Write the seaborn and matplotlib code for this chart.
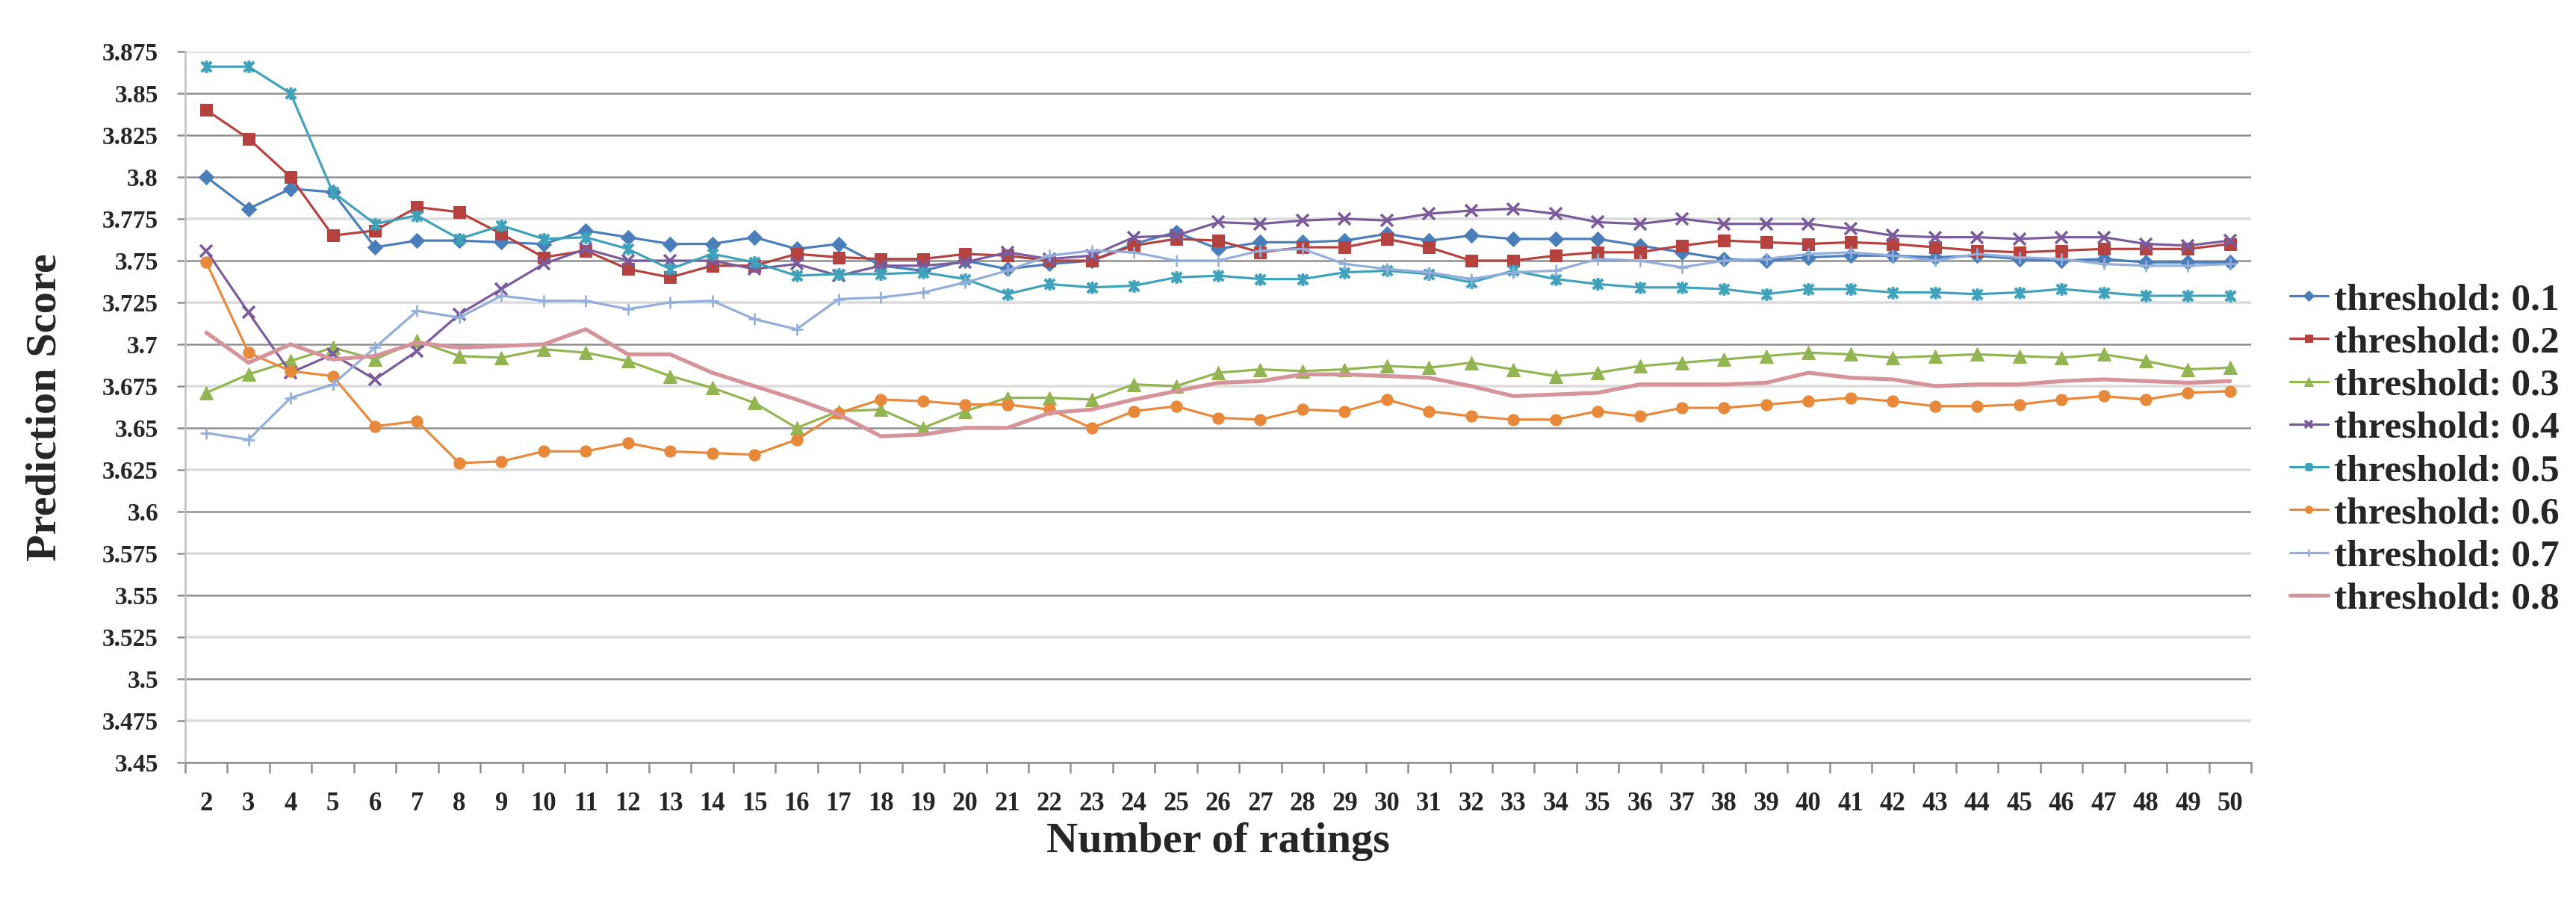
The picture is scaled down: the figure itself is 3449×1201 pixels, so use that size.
import matplotlib
matplotlib.use('Agg')
import matplotlib.pyplot as plt
import seaborn as sns
import pandas as pd
from matplotlib.path import Path
from matplotlib.ticker import FixedLocator, FuncFormatter

ratings = list(range(2, 51))

t01 = [3.800, 3.781, 3.793, 3.791, 3.758, 3.762, 3.762, 3.761, 3.760, 3.768,
       3.764, 3.760, 3.760, 3.764, 3.757, 3.760, 3.747, 3.744, 3.750, 3.745,
       3.748, 3.750, 3.760, 3.767, 3.757, 3.761, 3.761, 3.762, 3.766, 3.762,
       3.765, 3.763, 3.763, 3.763, 3.759, 3.755, 3.751, 3.750, 3.752, 3.753,
       3.753, 3.752, 3.753, 3.751, 3.750, 3.751, 3.749, 3.749, 3.749]
t02 = [3.840, 3.823, 3.800, 3.765, 3.768, 3.782, 3.779, 3.766, 3.752, 3.756,
       3.745, 3.740, 3.747, 3.747, 3.754, 3.752, 3.751, 3.751, 3.754, 3.753,
       3.750, 3.750, 3.759, 3.763, 3.762, 3.755, 3.758, 3.758, 3.763, 3.758,
       3.750, 3.750, 3.753, 3.755, 3.755, 3.759, 3.762, 3.761, 3.760, 3.761,
       3.760, 3.758, 3.756, 3.755, 3.756, 3.757, 3.757, 3.757, 3.760]
t03 = [3.671, 3.682, 3.690, 3.698, 3.691, 3.702, 3.693, 3.692, 3.697, 3.695,
       3.690, 3.681, 3.674, 3.665, 3.650, 3.660, 3.661, 3.650, 3.660, 3.668,
       3.668, 3.667, 3.676, 3.675, 3.683, 3.685, 3.684, 3.685, 3.687, 3.686,
       3.689, 3.685, 3.681, 3.683, 3.687, 3.689, 3.691, 3.693, 3.695, 3.694,
       3.692, 3.693, 3.694, 3.693, 3.692, 3.694, 3.690, 3.685, 3.686]
t04 = [3.756, 3.719, 3.683, 3.694, 3.679, 3.696, 3.718, 3.733, 3.748, 3.757,
       3.750, 3.750, 3.750, 3.745, 3.748, 3.741, 3.747, 3.747, 3.749, 3.755,
       3.751, 3.753, 3.764, 3.765, 3.773, 3.772, 3.774, 3.775, 3.774, 3.778,
       3.780, 3.781, 3.778, 3.773, 3.772, 3.775, 3.772, 3.772, 3.772, 3.769,
       3.765, 3.764, 3.764, 3.763, 3.764, 3.764, 3.760, 3.759, 3.762]
t05 = [3.866, 3.866, 3.850, 3.791, 3.772, 3.777, 3.763, 3.771, 3.763, 3.764,
       3.757, 3.745, 3.754, 3.749, 3.741, 3.742, 3.742, 3.743, 3.739, 3.730,
       3.736, 3.734, 3.735, 3.740, 3.741, 3.739, 3.739, 3.743, 3.744, 3.742,
       3.737, 3.744, 3.739, 3.736, 3.734, 3.734, 3.733, 3.730, 3.733, 3.733,
       3.731, 3.731, 3.730, 3.731, 3.733, 3.731, 3.729, 3.729, 3.729]
t06 = [3.749, 3.695, 3.684, 3.681, 3.651, 3.654, 3.629, 3.630, 3.636, 3.636,
       3.641, 3.636, 3.635, 3.634, 3.643, 3.659, 3.667, 3.666, 3.664, 3.664,
       3.661, 3.650, 3.660, 3.663, 3.656, 3.655, 3.661, 3.660, 3.667, 3.660,
       3.657, 3.655, 3.655, 3.660, 3.657, 3.662, 3.662, 3.664, 3.666, 3.668,
       3.666, 3.663, 3.663, 3.664, 3.667, 3.669, 3.667, 3.671, 3.672]
t07 = [3.647, 3.643, 3.668, 3.676, 3.698, 3.720, 3.716, 3.729, 3.726, 3.726,
       3.721, 3.725, 3.726, 3.715, 3.709, 3.727, 3.728, 3.731, 3.737, 3.744,
       3.753, 3.756, 3.755, 3.750, 3.750, 3.756, 3.757, 3.748, 3.745, 3.743,
       3.739, 3.743, 3.744, 3.751, 3.750, 3.746, 3.750, 3.751, 3.754, 3.755,
       3.753, 3.750, 3.754, 3.752, 3.751, 3.748, 3.747, 3.747, 3.748]
t08 = [3.707, 3.689, 3.700, 3.691, 3.693, 3.701, 3.698, 3.699, 3.700, 3.709,
       3.694, 3.694, 3.683, 3.675, 3.667, 3.658, 3.645, 3.646, 3.650, 3.650,
       3.659, 3.661, 3.667, 3.672, 3.677, 3.678, 3.682, 3.682, 3.681, 3.680,
       3.675, 3.669, 3.670, 3.671, 3.676, 3.676, 3.676, 3.677, 3.683, 3.680,
       3.679, 3.675, 3.676, 3.676, 3.678, 3.679, 3.678, 3.677, 3.678]

seriesNames = ['threshold: 0.1', 'threshold: 0.2', 'threshold: 0.3', 'threshold: 0.4',
               'threshold: 0.5', 'threshold: 0.6', 'threshold: 0.7', 'threshold: 0.8']
seriesValues = [t01, t02, t03, t04, t05, t06, t07, t08]

# excel style "star" marker: an x with a vertical bar through it
starPath = Path([(-1, -1), (1, 1), (-1, 1), (1, -1), (0, -1.25), (0, 1.25)],
                [Path.MOVETO, Path.LINETO, Path.MOVETO, Path.LINETO, Path.MOVETO, Path.LINETO])

styles = [
    dict(color='#4A7EBB', marker='D', markersize=10.5, linewidth=2.3),
    dict(color='#B5423F', marker='s', markersize=12, linewidth=2.3),
    dict(color='#92B552', marker='^', markersize=12.5, linewidth=2.3),
    dict(color='#7A5C9C', marker='x', markersize=11, markeredgewidth=2.6, linewidth=2.3),
    dict(color='#3FA2BA', marker=starPath, markersize=12, markeredgewidth=3.0, linewidth=2.3),
    dict(color='#E8883A', marker='o', markersize=11, linewidth=2.3),
    dict(color='#93AEDB', marker='+', markersize=12, markeredgewidth=1.9, linewidth=2.3),
    dict(color='#D4949A', marker=None, linewidth=3.8),
]


def makeViz():
    sns.set_theme(style="white")
    plt.rcParams['font.family'] = ['Liberation Serif', 'DejaVu Serif']
    plt.rcParams['font.weight'] = 'bold'

    fig = plt.figure(figsize=(34.49, 12.01), dpi=100)
    ax = fig.add_axes([0.0719, 0.150, 0.8020, 0.7925])

    for name, vals, st in zip(seriesNames, seriesValues, styles):
        df = pd.DataFrame({'ratings': ratings, 'score': vals})
        sns.lineplot(data=df, x='ratings', y='score', ax=ax, label=name,
                     markeredgecolor=st['color'], **st)

    ax.set_xlim(1.5, 50.5)
    ax.set_ylim(3.45, 3.875)

    yticks = [3.45 + 0.025 * i for i in range(18)]
    ax.yaxis.set_major_locator(FixedLocator(yticks))
    ax.yaxis.set_major_formatter(FuncFormatter(lambda v, p: f'{v:.3f}'.rstrip('0').rstrip('.')))
    ax.grid(axis='y', linewidth=1.8)
    for i, gl in enumerate(ax.yaxis.get_gridlines()):
        dark = (i % 2 == 0) or i == 15
        gl.set_color('#8e8e8e' if dark else '#dcdcdc')
        gl.set_linewidth(1.8 if dark else 2.6)
    ax.set_axisbelow(True)

    ax.xaxis.set_major_locator(FixedLocator(ratings))
    ax.xaxis.set_minor_locator(FixedLocator([r + 0.5 for r in [1] + ratings]))
    ax.tick_params(axis='x', which='major', length=0, pad=28, labelsize=25)
    ax.tick_params(axis='x', which='minor', length=10, width=1.8, color='#8e8e8e', direction='out')
    ax.tick_params(axis='y', which='major', length=8, width=1.8, color='#8e8e8e', pad=18, labelsize=24)
    ax.tick_params(bottom=True, left=True, which='both')

    for side in ['top', 'right']:
        ax.spines[side].set_visible(False)
    ax.spines['left'].set_color('#c0c0c0')
    ax.spines['left'].set_linewidth(1.8)
    ax.spines['bottom'].set_color('#8e8e8e')
    ax.spines['bottom'].set_linewidth(1.8)

    ax.set_xlabel('Number of ratings', fontsize=42, fontweight='bold', labelpad=6)
    ax.set_ylabel('Prediction Score', fontsize=42, fontweight='bold', labelpad=36)

    ax.legend(loc='center left', bbox_to_anchor=(3040 / 3449, 1 - 602 / 1201),
              bbox_transform=fig.transFigure, frameon=False,
              handlelength=1.0, handletextpad=0.15, labelspacing=0.2,
              borderpad=0, markerscale=0.65,
              prop={'family': ['Liberation Serif'], 'weight': 'bold', 'size': 37})

    fig.savefig('out.png', dpi=100)
    plt.close(fig)


if __name__ == "__main__":
    makeViz()
